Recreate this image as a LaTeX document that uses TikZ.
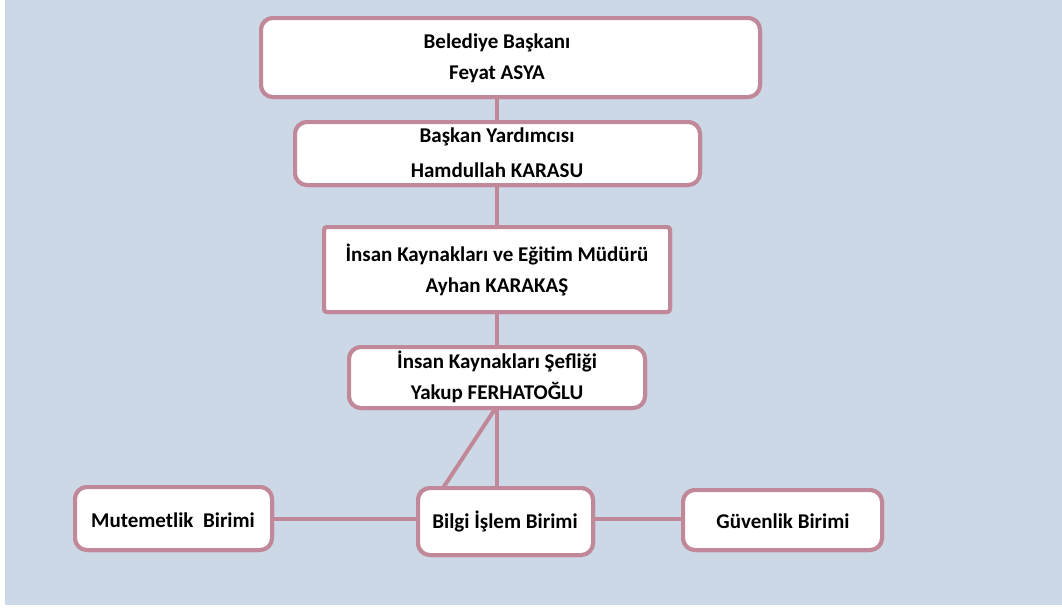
\documentclass[tikz,border=0pt]{standalone}
\usepackage{fontspec}
\setmainfont{Carlito}
\definecolor{bgc}{HTML}{CDD8E6}
\definecolor{linec}{HTML}{C08898}
\begin{document}
\begin{tikzpicture}[x=1pt,y=-1pt,
  boxs/.style={draw=linec,line width=4pt,fill=white,rounded corners=12pt,inner sep=0pt},
  sqbox/.style={draw=linec,line width=4pt,fill=white,rounded corners=3pt,inner sep=0pt},
  conn/.style={draw=linec,line width=4pt},
  lbl/.style={font=\bfseries\fontsize{21}{25}\selectfont,align=center,inner sep=0pt}]
\useasboundingbox (0,0) rectangle (1062,608);
\fill[white] (0,0) rectangle (1062,608);
\fill[bgc] (5,0) rectangle (1062,605);
% boxes (shapes only)
\node[boxs,minimum width=499pt,minimum height=79pt] (n1) at (510.5,57.5) {};
\node[boxs,minimum width=405pt,minimum height=63pt] (n2) at (497.5,153.5) {};
\node[sqbox,minimum width=346pt,minimum height=85pt] (n3) at (497,269.5) {};
\node[boxs,minimum width=296pt,minimum height=61pt] (n4) at (497,377.5) {};
\node[boxs,minimum width=175pt,minimum height=67pt] (n5) at (505.5,521.5) {};
\node[boxs,minimum width=197pt,minimum height=63pt] (n6) at (173.5,518.5) {};
\node[boxs,minimum width=199pt,minimum height=60pt] (n7) at (782.5,520) {};
% connectors
\coordinate (t4) at (497,406);
\begin{scope}[on background layer/.style={}]
\end{scope}
\draw[conn] (497,97) -- (497,122);
\draw[conn] (497,185) -- (497,227);
\draw[conn] (497,312) -- (497,347);
\draw[conn] (t4) -- (497,488);
\draw[conn] (t4) -- (443,488);
\draw[conn] (n6.east |- 0,519) -- (n5.west |- 0,519);
\draw[conn] (n5.east |- 0,519) -- (n7.west |- 0,519);
% redraw boxes over connector ends
\node[boxs,minimum width=499pt,minimum height=79pt] at (n1) {};
\node[boxs,minimum width=405pt,minimum height=63pt] at (n2) {};
\node[sqbox,minimum width=346pt,minimum height=85pt] at (n3) {};
\node[boxs,minimum width=296pt,minimum height=61pt] at (n4) {};
\node[boxs,minimum width=175pt,minimum height=67pt] at (n5) {};
\node[boxs,minimum width=197pt,minimum height=63pt] at (n6) {};
\node[boxs,minimum width=199pt,minimum height=60pt] at (n7) {};
% labels
\node[lbl] (b1a) at (497,43) {Belediye Başkanı};
\node[lbl] (b1b) at (497,74) {Feyat ASYA};
\node[lbl] (b2a) at (497,137) {Başkan Yardımcısı};
\node[lbl] (b2b) at (497,170) {Hamdullah KARASU};
\node[lbl] (b3a) at (497,254) {İnsan Kaynakları ve Eğitim Müdürü};
\node[lbl] (b3b) at (497,287) {Ayhan KARAKAŞ};
\node[lbl] (b4a) at (497,361) {İnsan Kaynakları Şefliği};
\node[lbl] (b4b) at (497,393) {Yakup FERHATOĞLU};
\node[lbl] (b5) at (505,521) {Bilgi İşlem Birimi};
\node[lbl] (b6) at (173,520) {Mutemetlik\ \ Birimi};
\node[lbl] (b7) at (783,521) {Güvenlik Birimi};
\end{tikzpicture}
\end{document}
